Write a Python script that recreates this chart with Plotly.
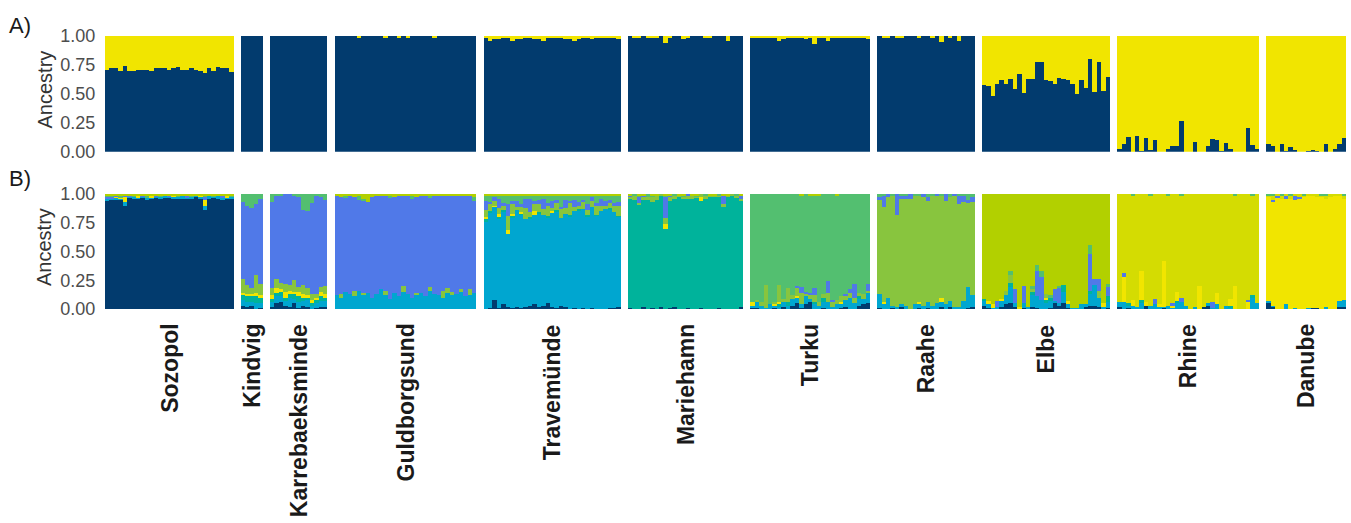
import plotly.graph_objects as go

# ---------------- data ----------------
populations = ["Sozopol", "Kindvig", "Karrebaeksminde", "Guldborgsund", "Travemünde",
               "Mariehamn", "Turku", "Raahe", "Elbe", "Rhine", "Danube"]
tick_vals = [0, 0.25, 0.5, 0.75, 1.0]
tick_text = ["0.00", "0.25", "0.50", "0.75", "1.00"]

# Panel A (K=2): dark-blue ancestry per individual (rest = yellow)
A_sozopol = [0.71,0.72,0.72,0.70,0.74,0.70,0.70,0.71,0.71,0.71,0.70,0.72,0.72,0.72,0.71,
             0.72,0.73,0.71,0.71,0.72,0.71,0.70,0.68,0.72,0.70,0.73,0.72,0.72,0.69]
A_kindvig = [1.0,1.0,1.0,1.0,1.0]
A_karreb = [1.0,1.0,1.0,1.0,1.0,1.0,1.0,1.0,1.0,1.0,1.0,1.0,1.0]
A_guldborg = [1.0,1.0,1.0,1.0,1.0,0.99,1.0,1.0,1.0,1.0,1.0,0.99,1.0,1.0,0.99,1.0,
              0.99,1.0,1.0,1.0,1.0,1.0,0.99,1.0,1.0,1.0,1.0,1.0,1.0,1.0,1.0,1.0]
A_trave = [0.99,0.96,0.97,0.97,0.98,0.98,0.96,0.97,0.97,0.98,0.98,0.97,0.97,0.96,0.98,0.98,
           0.98,0.98,0.97,0.97,0.96,0.97,0.98,0.98,0.97,0.99,0.98,0.99,0.99,0.98,0.97]
A_marie = [1.0,0.99,0.98,1.0,0.98,0.99,0.99,1.0,0.94,0.99,1.0,1.0,0.97,0.99,1.0,1.0,1.0,
           0.98,0.99,1.0,1.0,1.0,0.96,1.0,1.0,1.0]
A_turku = [0.98,0.98,0.99,0.99,0.98,0.98,0.96,0.97,0.99,0.99,0.98,0.99,0.97,0.99,0.93,0.99,
           0.99,0.96,0.99,0.99,0.99,0.99,0.99,0.99,0.99,0.99,0.97]
A_raahe = [1.0,0.99,0.98,1.0,0.99,0.98,1.0,1.0,1.0,0.99,1.0,1.0,0.99,1.0,0.95,1.0,0.99,1.0,
           0.96,1.0,1.0,1.0]
A_elbe = [0.58,0.57,0.48,0.59,0.62,0.59,0.63,0.54,0.67,0.51,0.63,0.63,0.78,0.78,0.62,0.61,
          0.59,0.64,0.63,0.62,0.59,0.50,0.62,0.55,0.80,0.52,0.78,0.53,0.65]
A_rhine = [0.03,0.07,0.13,0.0,0.14,0.01,0.12,0.02,0.10,0.0,0.0,0.03,0.05,0.05,0.27,0.0,0.0,
           0.09,0.0,0.0,0.05,0.11,0.10,0.01,0.08,0.03,0.0,0.0,0.0,0.21,0.06,0.03]
A_danube = [0.07,0.05,0.0,0.07,0.01,0.04,0.02,0.0,0.0,0.01,0.015,0.01,0.0,0.07,0.0,0.03,0.07,0.12]

# Panel B (K=9): minor cluster memberships per individual; main cluster takes the rest
soz_cyan = [0.02,0.01,0.02,0.01,0.03,0.01,0.02,0.01,0.01,0.02,0.01,0.01,0.02,0.01,0.01,0.02,0.02,0.03,0.01,0.02,0.02,0.02,0.04,0.02,0.01,0.03,0.02,0.01,0.02]
soz_yellow = [0.0,0.0,0.01,0.01,0.04,0.0,0.0,0.01,0.0,0.0,0.01,0.0,0.0,0.0,0.0,0.01,0.0,0.0,0.0,0.0,0.0,0.01,0.05,0.0,0.0,0.0,0.0,0.01,0.0]
soz_blue = [0.02,0.02,0.01,0.0,0.02,0.01,0.0,0.0,0.01,0.0,0.0,0.01,0.0,0.0,0.01,0.0,0.0,0.0,0.01,0.0,0.0,0.0,0.02,0.0,0.0,0.0,0.01,0.0,0.0]
soz_green = [0.01,0.01,0.0,0.01,0.0,0.0,0.01,0.0,0.0,0.01,0.0,0.0,0.01,0.0,0.0,0.0,0.01,0.0,0.0,0.01,0.0,0.0,0.02,0.0,0.01,0.0,0.0,0.0,0.01]
soz_lime = [0.01,0.01,0.01,0.02,0.01,0.01,0.01,0.02,0.01,0.02,0.02,0.01,0.01,0.02,0.01,0.01,0.01,0.01,0.02,0.01,0.01,0.01,0.01,0.02,0.01,0.01,0.02,0.02,0.01]

kin_navy = [0.03,0.02,0.03,0.0,0.01]
kin_cyan = [0.05,0.04,0.03,0.05,0.04]
kin_teal = [0.04,0.06,0.05,0.06,0.05]
kin_yellow = [0.02,0.01,0.02,0.03,0.02]
kin_yg = [0.12,0.08,0.05,0.16,0.10]
kin_green = [0.07,0.10,0.12,0.09,0.04]

kar_navy = [0.02,0.05,0.06,0.03,0.02,0.05,0.01,0.03,0.02,0.0,0.01,0.02,0.02]
kar_cyan = [0.04,0.06,0.05,0.04,0.08,0.04,0.05,0.04,0.06,0.03,0.04,0.05,0.05]
kar_teal = [0.03,0.03,0.04,0.03,0.03,0.04,0.05,0.03,0.02,0.02,0.03,0.04,0.03]
kar_yellow = [0.03,0.04,0.02,0.05,0.03,0.02,0.04,0.03,0.02,0.03,0.02,0.04,0.03]
kar_yg = [0.06,0.08,0.06,0.07,0.05,0.10,0.04,0.08,0.06,0.05,0.03,0.04,0.07]
kar_green = [0.07,0.02,0.01,0.0,0.0,0.02,0.03,0.14,0.15,0.08,0.02,0.03,0.05]

gul_cyan = [0.12,0.10,0.15,0.13,0.11,0.16,0.12,0.14,0.10,0.13,0.17,0.12,0.09,0.14,0.11,0.15,0.13,0.10,0.12,0.14,0.11,0.16,0.13,0.12,0.10,0.14,0.12,0.13,0.15,0.11,0.12,0.14]
gul_yg = [0.0,0.03,0.0,0.0,0.05,0.0,0.02,0.0,0.0,0.0,0.0,0.04,0.0,0.0,0.0,0.05,0.0,0.0,0.02,0.0,0.0,0.03,0.0,0.0,0.06,0.04,0.03,0.0,0.02,0.0,0.05,0.0]
gul_green = [0.0,0.0,0.01,0.0,0.0,0.03,0.02,0.0,0.0,0.0,0.0,0.0,0.01,0.0,0.0,0.0,0.0,0.02,0.0,0.0,0.0,0.01,0.0,0.0,0.0,0.0,0.0,0.0,0.0,0.0,0.0,0.03]
gul_lime = [0.02,0.03,0.02,0.01,0.03,0.02,0.04,0.07,0.03,0.02,0.01,0.02,0.02,0.03,0.02,0.01,0.02,0.02,0.03,0.02,0.01,0.02,0.02,0.01,0.02,0.02,0.02,0.01,0.02,0.01,0.02,0.03]

tr_navy = [0.0,0.01,0.08,0.01,0.04,0.02,0.01,0.02,0.01,0.02,0.03,0.04,0.02,0.03,0.05,0.02,0.01,0.03,0.02,0.0,0.01,0.0,0.01,0.0,0.01,0.0,0.0,0.0,0.01,0.01,0.02]
tr_teal = [0.02,0.01,0.0,0.02,0.01,0.0,0.02,0.0,0.01,0.0,0.02,0.0,0.01,0.0,0.02,0.0,0.01,0.0,0.0,0.02,0.0,0.01,0.0,0.02,0.0,0.01,0.0,0.0,0.02,0.0,0.01]
tr_yellow = [0.02,0.0,0.01,0.03,0.0,0.04,0.02,0.0,0.01,0.0,0.0,0.03,0.0,0.0,0.0,0.01,0.0,0.0,0.0,0.0,0.0,0.0,0.0,0.0,0.0,0.0,0.0,0.0,0.0,0.0,0.0]
tr_yg = [0.06,0.06,0.04,0.05,0.04,0.12,0.08,0.03,0.05,0.10,0.04,0.06,0.07,0.05,0.09,0.03,0.06,0.08,0.05,0.10,0.04,0.03,0.06,0.04,0.05,0.08,0.05,0.03,0.04,0.06,0.09]
tr_blue = [0.08,0.02,0.03,0.08,0.02,0.10,0.03,0.05,0.02,0.08,0.12,0.03,0.04,0.09,0.02,0.06,0.03,0.02,0.07,0.02,0.06,0.03,0.02,0.05,0.03,0.02,0.06,0.04,0.03,0.02,0.03]
tr_green = [0.04,0.05,0.02,0.03,0.06,0.08,0.05,0.04,0.08,0.03,0.02,0.05,0.04,0.03,0.06,0.05,0.04,0.10,0.03,0.05,0.04,0.06,0.03,0.08,0.02,0.06,0.03,0.05,0.04,0.07,0.05]
tr_lime = [0.02,0.02,0.01,0.01,0.02,0.01,0.01,0.02,0.01,0.01,0.02,0.01,0.01,0.01,0.02,0.01,0.01,0.01,0.02,0.01,0.01,0.01,0.02,0.01,0.01,0.02,0.01,0.01,0.01,0.01,0.02]

mh_navy = [0.01,0.0,0.0,0.02,0.0,0.01,0.0,0.02,0.0,0.01,0.02,0.0,0.0,0.01,0.0,0.0,0.01,0.0,0.0,0.0,0.01,0.0,0.0,0.0,0.0,0.02]
mh_yellow = [0,0,0,0,0,0,0,0,0.04,0,0,0,0,0,0,0,0.03,0,0,0,0,0,0,0,0,0]
mh_yg = [0.02,0.04,0.01,0.03,0.02,0.05,0.03,0.02,0.05,0.04,0.03,0.02,0.01,0.02,0.03,0.01,0.03,0.02,0.01,0.02,0.01,0.02,0.01,0.02,0.01,0.02]
mh_blue = [0.01,0.0,0.05,0.01,0.0,0.0,0.0,0.0,0.18,0.01,0.0,0.0,0.0,0.02,0.0,0.0,0.0,0.0,0.0,0.0,0.0,0.08,0.0,0.0,0.0,0.03]
mh_green = [0.0,0.01,0.02,0.0,0.03,0.01,0.0,0.0,0.02,0.0,0.01,0.0,0.02,0.0,0.0,0.01,0.0,0.02,0.0,0.0,0.01,0.0,0.0,0.0,0.02,0.0]
mh_lime = [0.01,0.0,0.01,0.01,0.0,0.01,0.02,0.0,0.01,0.01,0.0,0.01,0.01,0.0,0.01,0.01,0.0,0.0,0.01,0.01,0.0,0.01,0.01,0.0,0.0,0.01]

tk_navy = [0.01,0.01,0.0,0.0,0.0,0.01,0.0,0.02,0.0,0.03,0.05,0.01,0.04,0.06,0.0,0.0,0.01,0.0,0.0,0.0,0.01,0.02,0.0,0.0,0.03,0.04,0.05]
tk_cyan = [0.02,0.05,0.03,0.01,0.04,0.02,0.02,0.04,0.03,0.06,0.05,0.03,0.07,0.03,0.04,0.03,0.05,0.06,0.02,0.04,0.03,0.06,0.10,0.05,0.06,0.05,0.09]
tk_teal = [0,0,0,0,0,0,0.02,0,0.03,0,0,0,0,0,0.02,0,0.04,0,0,0,0,0,0,0,0.02,0,0]
tk_yellow = [0.03,0.0,0.0,0.0,0.0,0.01,0.02,0.0,0.0,0.0,0.01,0.0,0.0,0.0,0.0,0.0,0.0,0.0,0.0,0.0,0.02,0.0,0.0,0.0,0.0,0.0,0.0]
tk_yg = [0.0,0.02,0.03,0.20,0.0,0.02,0.15,0.03,0.12,0.03,0.08,0.10,0.02,0.04,0.06,0.03,0.03,0.08,0.04,0.04,0.05,0.03,0.04,0.05,0.03,0.04,0.02]
tk_blue = [0,0,0,0,0,0,0,0,0,0,0.01,0.05,0.02,0.01,0.06,0.0,0.0,0.10,0.02,0.0,0.0,0.02,0.03,0.12,0.0,0.0,0.06]
tk_lime = [0,0,0,0,0,0,0,0,0,0,0,0.01,0,0.01,0.01,0.01,0,0,0,0.01,0,0,0,0,0,0,0]

rh_navy = [0.01,0.0,0.0,0.01,0.0,0.02,0.0,0.0,0.0,0.01,0.0,0.01,0.0,0.0,0.02,0.0,0.02,0.0,0.0,0.0,0.01,0.02]
rh_cyan = [0.12,0.04,0.10,0.02,0.02,0.02,0.03,0.0,0.04,0.03,0.03,0.05,0.03,0.05,0.04,0.04,0.05,0.02,0.02,0.07,0.18,0.10]
rh_yellow = [0,0.02,0,0,0,0,0,0,0,0.02,0,0,0,0,0.04,0,0,0,0,0,0,0]
rh_blue = [0.02,0.10,0.03,0.0,0.18,0.02,0.03,0.04,0.0,0.0,0.03,0.03,0.0,0.02,0.0,0.06,0.0,0.02,0.08,0.05,0.03,0.04]
rh_green = [0.03,0.01,0.0,0.02,0.0,0.02,0.01,0.0,0.02,0.01,0.0,0.03,0.01,0.0,0.02,0.0,0.03,0.0,0.01,0.02,0.05,0.03]

el_navy = [0.03,0.01,0.0,0.0,0.02,0.04,0.05,0.02,0.0,0.01,0.0,0.02,0.01,0.0,0.0,0.01,0.05,0.03,0.05,0.01,0.0,0.0,0.0,0.02,0.03,0.03,0.02,0.0,0.01]
el_cyan = [0.04,0.03,0.01,0.02,0.05,0.08,0.14,0.03,0.0,0.04,0.02,0.10,0.10,0.08,0.05,0.06,0.02,0.02,0.10,0.03,0.01,0.01,0.04,0.02,0.10,0.18,0.08,0.02,0.05]
el_teal = [0.02,0.0,0.0,0.0,0.0,0.0,0.04,0.0,0.0,0.0,0.0,0.03,0.0,0.0,0.03,0.03,0.0,0.0,0.06,0.0,0.0,0.0,0.0,0.0,0.03,0.0,0.0,0.0,0.05]
el_yellow = [0.0,0.03,0.03,0.0,0.02,0.0,0.0,0.0,0.02,0.0,0.0,0.0,0.0,0.0,0.02,0.0,0.0,0.0,0.0,0.03,0.0,0.0,0.0,0.0,0.0,0.0,0.0,0.03,0.0]
el_yg = [0.0,0.0,0.0,0.0,0.0,0.04,0.07,0.0,0.0,0.0,0.0,0.02,0.0,0.0,0.03,0.0,0.0,0.0,0.0,0.0,0.0,0.0,0.0,0.0,0.0,0.0,0.06,0.0,0.0]
el_blue = [0.0,0.0,0.0,0.05,0.0,0.0,0.0,0.12,0.0,0.15,0.0,0.0,0.22,0.20,0.0,0.0,0.10,0.13,0.0,0.0,0.0,0.0,0.0,0.0,0.32,0.05,0.10,0.0,0.08]
el_green = [0.0,0.0,0.0,0.0,0.0,0.0,0.03,0.0,0.0,0.0,0.0,0.03,0.05,0.05,0.0,0.02,0.0,0.02,0.0,0.0,0.0,0.0,0.0,0.0,0.08,0.0,0.0,0.0,0.03]

rn_navy = [0.02,0.0,0.01,0.0,0.0,0.0,0.03,0.0,0.0,0.0,0.01,0.0,0.0,0.0,0.0,0.0,0.0,0.0,0.0,0.02,0.03,0.0,0.0,0.0,0.0,0.0,0.0,0.0,0.0,0.0,0.0,0.0]
rn_cyan = [0.04,0.06,0.02,0.03,0.02,0.05,0.0,0.03,0.04,0.02,0.01,0.03,0.01,0.05,0.06,0.03,0.0,0.02,0.0,0.0,0.02,0.01,0.04,0.0,0.03,0.01,0.0,0.0,0.0,0.0,0.10,0.05]
rn_teal = [0.0,0.0,0.02,0.0,0.0,0.03,0.0,0.0,0.0,0.0,0.0,0.0,0.0,0.02,0.0,0.0,0.0,0.0,0.0,0.0,0.0,0.0,0.0,0.0,0.0,0.02,0.0,0.0,0.0,0.0,0.02,0.0]
rn_yellow = [0.0,0.22,0.0,0.05,0.0,0.25,0.03,0.0,0.0,0.02,0.40,0.0,0.02,0.08,0.0,0.0,0.0,0.0,0.20,0.0,0.0,0.0,0.10,0.0,0.0,0.06,0.20,0.0,0.0,0.06,0.0,0.0]
rn_blue = [0.0,0.03,0.0,0.0,0.0,0.0,0.0,0.0,0.05,0.0,0.0,0.0,0.02,0.0,0.04,0.0,0.0,0.0,0.0,0.0,0.0,0.05,0.0,0.0,0.0,0.0,0.0,0.0,0.0,0.02,0.0,0.0]
rn_green = [0.0,0.0,0.0,0.02,0.0,0.0,0.0,0.02,0.0,0.0,0.0,0.01,0.0,0.0,0.02,0.0,0.0,0.0,0.0,0.0,0.0,0.0,0.0,0.0,0.0,0.0,0.02,0.0,0.0,0.0,0.02,0.0]

dn_navy = [0.05,0.02,0,0,0,0,0,0,0,0,0.01,0.01,0,0,0,0,0.02,0.02]
dn_cyan = [0.02,0.01,0,0,0.04,0,0.01,0,0,0.01,0,0,0,0.02,0,0,0.05,0.06]
dn_blue = [0,0.02,0.01,0,0.02,0,0.03,0.01,0,0,0,0,0,0,0,0,0,0]
dn_olive = [0.02,0.03,0.02,0.03,0.02,0.02,0.02,0.03,0.02,0.02,0.02,0.03,0.02,0.02,0.03,0.02,0.02,0.03]
dn_green = [0.01,0.02,0,0.01,0,0.02,0,0,0.01,0,0,0,0.01,0.02,0,0,0,0.01]

# cluster order (stacking bottom -> top) and colours
clusters = ["navy", "cyan", "teal", "yellow", "yg", "blue", "olive", "green", "lime"]
cluster_colors = {"navy": "#023b6e", "cyan": "#00a6d0", "teal": "#00b39b", "yellow": "#f1e500",
                  "yg": "#88c53e", "blue": "#5079e8", "olive": "#d4dc02", "green": "#53bf70",
                  "lime": "#b2d000"}
A_colors = ["#023b6e", "#f1e500"]

A_data = [A_sozopol, A_kindvig, A_karreb, A_guldborg, A_trave, A_marie, A_turku,
          A_raahe, A_elbe, A_rhine, A_danube]
B_main = ["navy", "blue", "blue", "blue", "cyan", "teal", "green", "yg", "lime", "olive", "yellow"]
B_minor = [
    {"cyan": soz_cyan, "yellow": soz_yellow, "blue": soz_blue, "green": soz_green, "lime": soz_lime},
    {"navy": kin_navy, "cyan": kin_cyan, "teal": kin_teal, "yellow": kin_yellow, "yg": kin_yg, "green": kin_green},
    {"navy": kar_navy, "cyan": kar_cyan, "teal": kar_teal, "yellow": kar_yellow, "yg": kar_yg, "green": kar_green},
    {"cyan": gul_cyan, "yg": gul_yg, "green": gul_green, "lime": gul_lime},
    {"navy": tr_navy, "teal": tr_teal, "yellow": tr_yellow, "yg": tr_yg, "blue": tr_blue, "green": tr_green, "lime": tr_lime},
    {"navy": mh_navy, "yellow": mh_yellow, "yg": mh_yg, "blue": mh_blue, "green": mh_green, "lime": mh_lime},
    {"navy": tk_navy, "cyan": tk_cyan, "teal": tk_teal, "yellow": tk_yellow, "yg": tk_yg, "blue": tk_blue, "lime": tk_lime},
    {"navy": rh_navy, "cyan": rh_cyan, "yellow": rh_yellow, "blue": rh_blue, "green": rh_green},
    {"navy": el_navy, "cyan": el_cyan, "teal": el_teal, "yellow": el_yellow, "yg": el_yg, "blue": el_blue, "green": el_green},
    {"navy": rn_navy, "cyan": rn_cyan, "teal": rn_teal, "yellow": rn_yellow, "blue": rn_blue, "green": rn_green},
    {"navy": dn_navy, "cyan": dn_cyan, "blue": dn_blue, "olive": dn_olive, "green": dn_green},
]

# ---------------- build ----------------
GAP = 1.6
xpos, centers = [], []
start = 0.0
for p, vals in enumerate(A_data):
    n = len(vals)
    xpos.extend([start + i + 0.5 for i in range(n)])
    centers.append(start + n / 2.0)
    start += n + GAP
xmax = start - GAP

A_navy = [v for vals in A_data for v in vals]
A_yel = [round(1 - v, 4) for v in A_navy]

B_vals = {c: [] for c in clusters}
for p, vals in enumerate(A_data):
    n = len(vals)
    minor = B_minor[p]
    for i in range(n):
        row = {c: (minor[c][i] if c in minor else 0.0) for c in clusters}
        row[B_main[p]] = max(0.0, 1.0 - sum(v for c, v in row.items() if c != B_main[p]))
        for c in clusters:
            B_vals[c].append(row[c])

fig = go.Figure()
for vals, col in zip([A_navy, A_yel], A_colors):
    fig.add_trace(go.Bar(x=xpos, y=vals, width=1.0, marker=dict(color=col, line=dict(width=0)),
                         xaxis="x", yaxis="y", showlegend=False, hoverinfo="skip"))
for c in clusters:
    fig.add_trace(go.Bar(x=xpos, y=B_vals[c], width=1.0,
                         marker=dict(color=cluster_colors[c], line=dict(width=0)),
                         xaxis="x2", yaxis="y2", showlegend=False, hoverinfo="skip"))

W, H = 1351, 523
L, R = 105, 5
PW = W - L - R

def px_x(px):
    return (px - L) / PW

def px_y(py):
    return 1 - py / H

FONT = "Liberation Sans, Arial, sans-serif"
xax = dict(range=[0, xmax], showgrid=False, zeroline=False, showline=False,
           showticklabels=False, ticks="", domain=[0, 1], automargin=False)
yax = dict(range=[0, 1], tickvals=tick_vals, ticktext=tick_text, showgrid=False,
           zeroline=False, showline=False, ticks="outside", ticklen=5, automargin=False,
           tickcolor="rgba(0,0,0,0)", tickfont=dict(family=FONT, size=18, color="#4d4d4d"))

fig.update_layout(
    width=W, height=H, margin=dict(l=L, r=R, t=0, b=0, pad=0, autoexpand=False),
    barmode="stack", bargap=0, plot_bgcolor="white", paper_bgcolor="white",
    xaxis=dict(xax, anchor="y"),
    xaxis2=dict(xax, anchor="y2"),
    yaxis=dict(yax, domain=[px_y(151.7), px_y(35.7)], anchor="x"),
    yaxis2=dict(yax, domain=[px_y(309), px_y(194)], anchor="x2"),
)

ann = []
ann.append(dict(text="A)", x=px_x(20), y=px_y(25), xref="paper", yref="paper",
                showarrow=False, xanchor="center", yanchor="middle",
                font=dict(family=FONT, size=22, color="#1a1a1a")))
ann.append(dict(text="B)", x=px_x(20), y=px_y(178), xref="paper", yref="paper",
                showarrow=False, xanchor="center", yanchor="middle",
                font=dict(family=FONT, size=22, color="#1a1a1a")))
for yc in [89.5, 247.0]:
    ann.append(dict(text="Ancestry", x=px_x(44), y=px_y(yc), xref="paper", yref="paper",
                    showarrow=False, xanchor="center", yanchor="middle", textangle=-90,
                    font=dict(family=FONT, size=20, color="#333333")))
for name, cx in zip(populations, centers):
    ann.append(dict(text=name, x=cx, y=px_y(322), xref="x2", yref="paper",
                    showarrow=False, xanchor="center", yanchor="top", textangle=-90,
                    font=dict(family=FONT, size=23, color="#1a1a1a", weight="bold")))
fig.update_layout(annotations=ann)

fig.write_html("out.html", config={"displayModeBar": False},
               post_script="document.body.style.margin='0';document.body.style.padding='0';"
                           "document.body.style.overflow='hidden';")
